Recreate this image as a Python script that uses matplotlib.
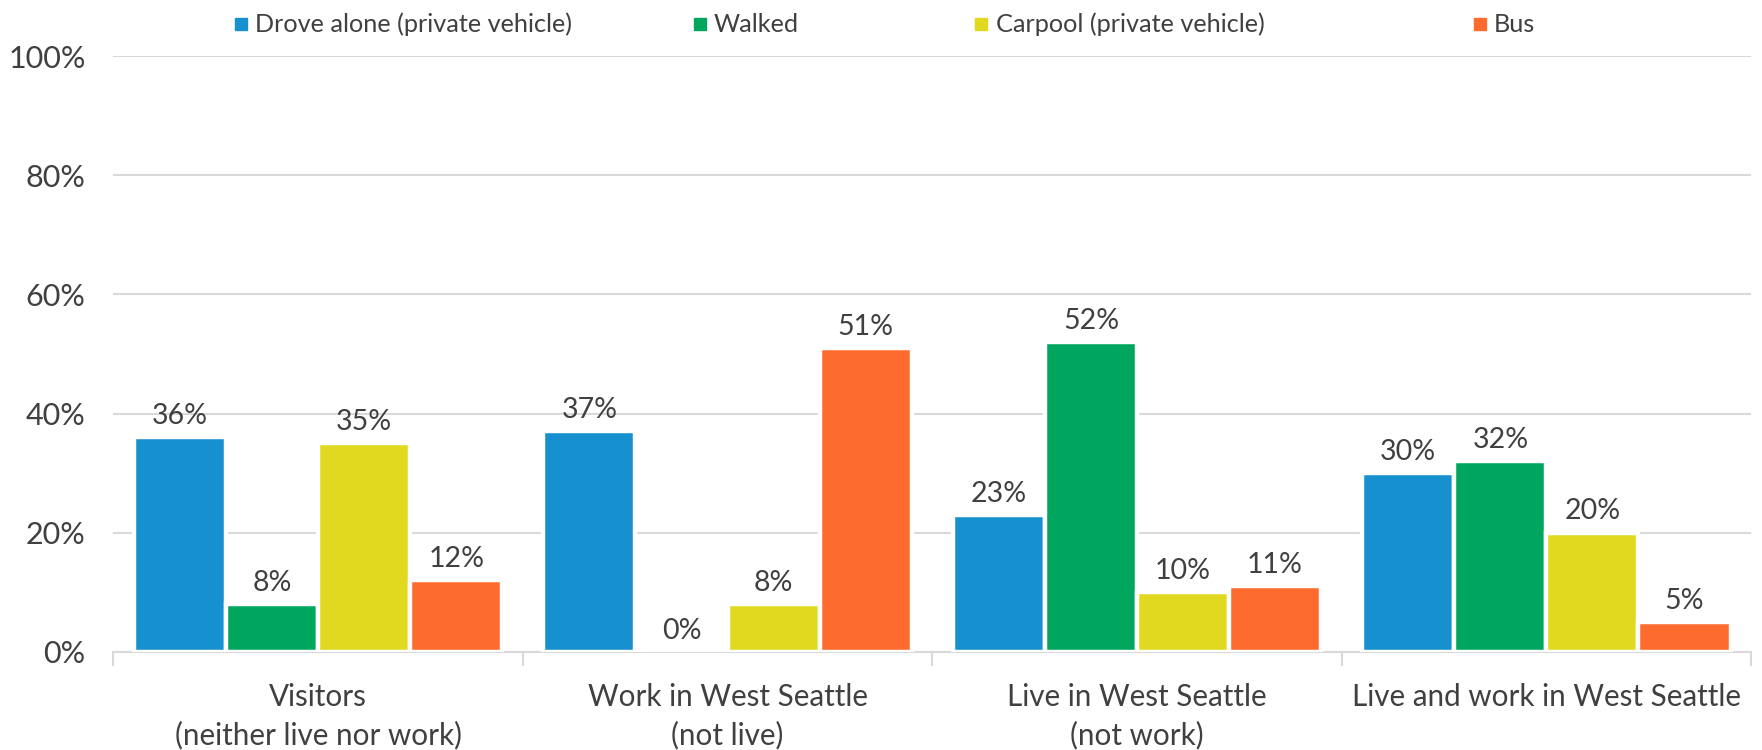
import matplotlib
matplotlib.use('Agg')
import matplotlib.pyplot as plt
import numpy as np

# data
categories = ['Visitors\n(neither live nor work)',
              'Work in West Seattle\n(not live)',
              'Live in West Seattle\n(not work)',
              'Live and work in West Seattle']
series = ['Drove alone (private vehicle)', 'Walked',
          'Carpool (private vehicle)', 'Bus']
drove_alone = [36, 37, 23, 30]
walked = [8, 0, 52, 32]
carpool = [35, 8, 10, 20]
bus = [12, 51, 11, 5]
y_ticks = [0, 20, 40, 60, 80, 100]

colors = ['#1790cf', '#00a65d', '#e0d91f', '#fe6b2e']
text_color = '#404040'
grid_color = '#d9d9d9'

plt.rcParams['font.family'] = ['Lato', 'DejaVu Sans']

fig = plt.figure(figsize=(17.62, 7.5), dpi=100)
ax = fig.add_axes([0.0644, 0.1307, 0.9294, 0.7946])

values = [drove_alone, walked, carpool, bus]
x = np.arange(len(categories))
slot = 0.225
for i, (name, vals) in enumerate(zip(series, values)):
    offset = (i - 1.5) * slot
    bars = ax.bar(x + offset, vals, width=slot, color=colors[i],
                  edgecolor='white', linewidth=3.2, zorder=3, label=name)
    ax.bar_label(bars, labels=[f'{v}%' for v in vals], padding=6,
                 fontsize=20.5, color=text_color)

ax.set_xlim(-0.5, len(categories) - 0.5)
ax.set_ylim(0, 100)
ax.set_yticks(y_ticks)
ax.set_yticklabels([f'{t}%' for t in y_ticks], fontsize=22, color=text_color)
ax.yaxis.grid(True, color=grid_color, linewidth=1.5, zorder=0)
ax.tick_params(axis='y', length=0, pad=20)

# category labels between boundary ticks
ax.set_xticks(x)
ax.set_xticklabels(categories, fontsize=21.3, color=text_color, linespacing=1.42)
ax.tick_params(axis='x', length=0, pad=22)
ax.set_xticks(np.arange(len(categories) + 1) - 0.5, minor=True)
ax.tick_params(axis='x', which='minor', length=10, width=1.5, color=grid_color)

for s in ['top', 'right', 'left']:
    ax.spines[s].set_visible(False)
ax.spines['bottom'].set_color(grid_color)
ax.spines['bottom'].set_linewidth(1.5)

# legend laid out like the original (uneven spacing)
legend_x = [0.137, 0.397, 0.557, 0.840]
for lx, name, c in zip(legend_x, series, colors):
    fig.add_artist(plt.Line2D([lx], [0.968], marker='s', markersize=8,
                              color=c, linestyle='none',
                              transform=fig.transFigure))
    fig.text(lx + 0.008, 0.968, name, fontsize=18.2, color=text_color,
             va='center', ha='left')

fig.savefig('out.png', dpi=100)
